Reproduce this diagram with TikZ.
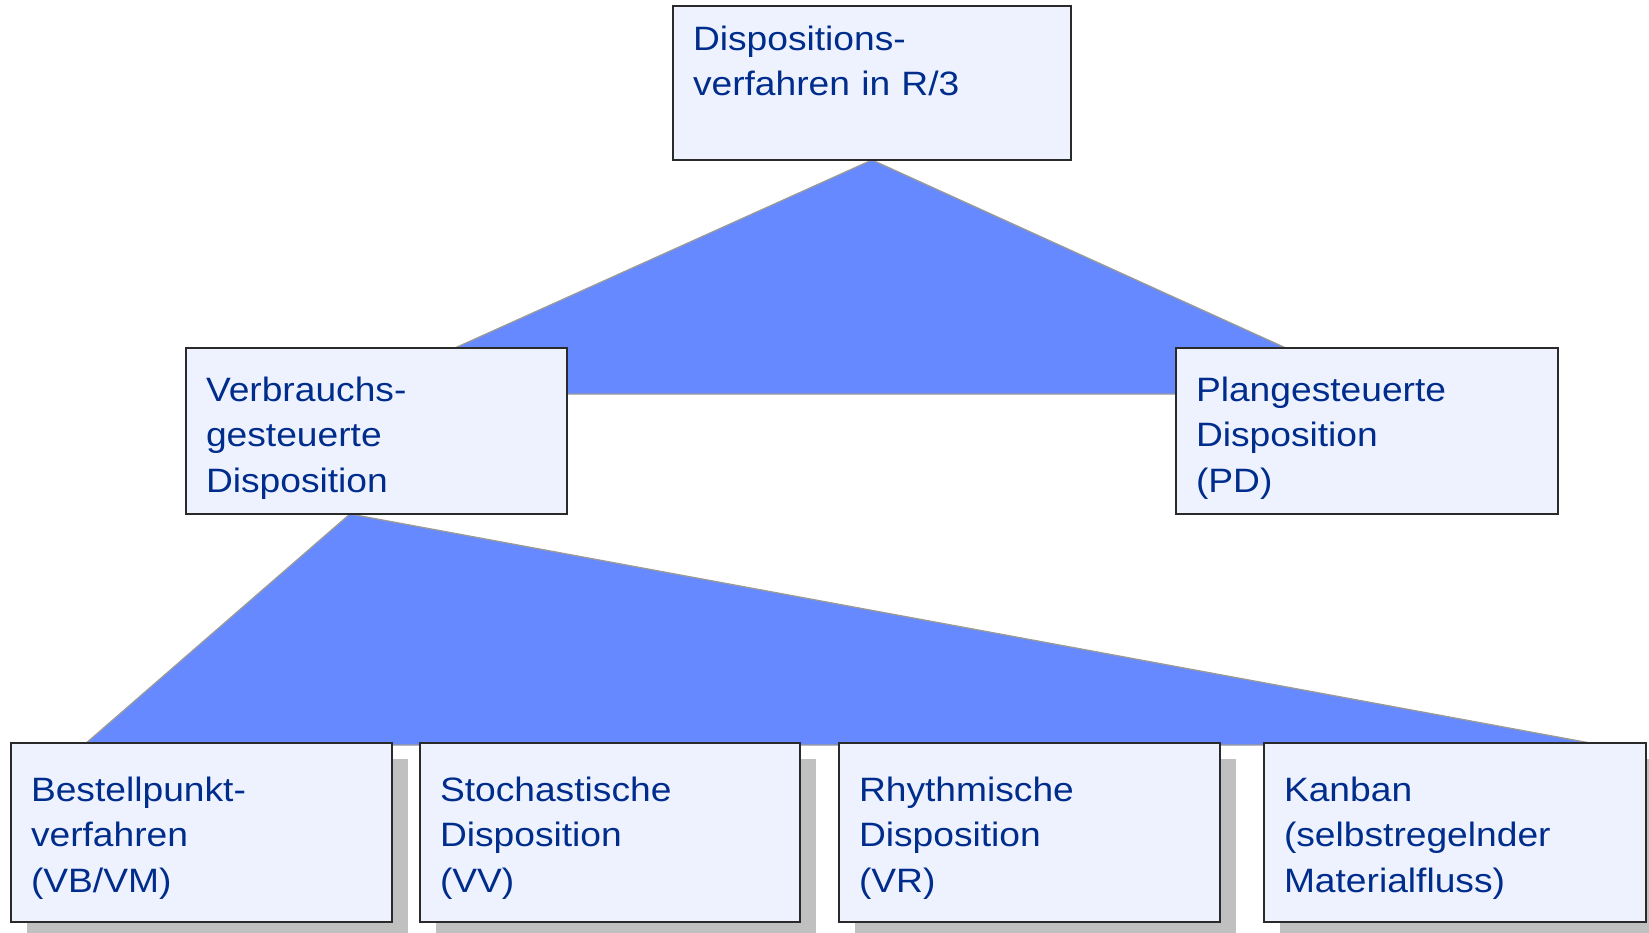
\documentclass[tikz,border=0pt]{standalone}
\usepackage{fontspec}
\setmainfont{Liberation Sans}[FakeStretch=1.1]
\usetikzlibrary{shadows,backgrounds}
\definecolor{boxfill}{HTML}{EEF2FF}
\definecolor{boxline}{HTML}{2A2A2A}
\definecolor{trifill}{HTML}{6689FF}
\definecolor{triline}{HTML}{9A9A9A}
\definecolor{shadowgray}{HTML}{C0C0C0}
\definecolor{navy}{HTML}{002D8C}
\begin{document}
\begin{tikzpicture}[x=1pt,y=-1pt,
  box/.style={draw=boxline, fill=boxfill, line width=1.3pt, inner sep=0pt, outer sep=0pt, anchor=north west},
  shadowbox/.style={box, general shadow={fill=shadowgray, shadow xshift=16pt, shadow yshift=-16pt}},
  txt/.style={anchor=base west, align=left, inner sep=0pt, outer sep=0pt, text=navy, font=\fontsize{33.8}{45.5}\selectfont},
  tri/.style={fill=trifill, draw=triline, line width=1.3pt, line join=miter}]
\useasboundingbox (0,0) rectangle (1649,932);
% boxes
\node[box, minimum width=398, minimum height=154] (top) at (673,6) {};
\node[box, minimum width=381, minimum height=166] (vb) at (186,348) {};
\node[box, minimum width=382, minimum height=166] (pd) at (1176,348) {};
\node[shadowbox, minimum width=381, minimum height=179] (b1) at (11,743) {};
\node[shadowbox, minimum width=380, minimum height=179] (b2) at (420,743) {};
\node[shadowbox, minimum width=381, minimum height=179] (b3) at (839,743) {};
\node[shadowbox, minimum width=382, minimum height=179] (b4) at (1264,743) {};
% triangle corners
\coordinate (a1) at (top.south);
\coordinate (l1) at (353,394);
\coordinate (r1) at (1387,394);
\coordinate (a2) at ([xshift=-26.5pt]vb.south);
\coordinate (l2) at (84,745);
\coordinate (r2) at (1601,745);
% triangles behind the boxes
\begin{scope}[on background layer]
\draw[tri] (a1) -- (l1) -- (r1) -- cycle;
\draw[tri] (a2) -- (l2) -- (r2) -- cycle;
\end{scope}
% texts
\node[txt, text width=358] (t0) at ([shift={(20,44)}]top.north west) {Dispositions-\\verfahren in R/3};
\node[txt, text width=341] (t1) at ([shift={(20,53)}]vb.north west) {Verbrauchs-\\gesteuerte\\Disposition};
\node[txt, text width=342] (t2) at ([shift={(20,53)}]pd.north west) {Plangesteuerte\\Disposition\\(PD)};
\node[txt, text width=341] (t3) at ([shift={(20,58)}]b1.north west) {Bestellpunkt-\\verfahren\\(VB/VM)};
\node[txt, text width=340] (t4) at ([shift={(20,58)}]b2.north west) {Stochastische\\Disposition\\(VV)};
\node[txt, text width=341] (t5) at ([shift={(20,58)}]b3.north west) {Rhythmische\\Disposition\\(VR)};
\node[txt, text width=342] (t6) at ([shift={(20,58)}]b4.north west) {Kanban\\(selbstregelnder\\Materialfluss)};
\end{tikzpicture}
\end{document}
